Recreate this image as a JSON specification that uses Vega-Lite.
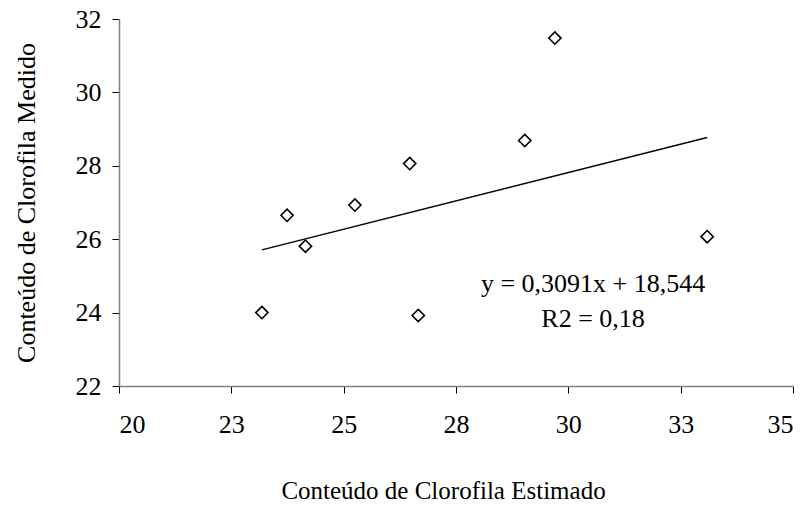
{
  "$schema": "https://vega.github.io/schema/vega-lite/v6.json",
  "width": 674,
  "height": 367,
  "autosize": "none",
  "padding": {"left": 119, "top": 19, "right": 17, "bottom": 121},
  "background": "white",
  "config": {
    "view": {"stroke": null},
    "font": "Liberation Serif",
    "axis": {
      "grid": false,
      "labelFont": "Liberation Serif",
      "labelFontSize": 26,
      "labelColor": "black",
      "titleFont": "Liberation Serif",
      "titleFontSize": 25,
      "titleFontWeight": "normal",
      "titleColor": "black",
      "domainColor": "#808080",
      "domainWidth": 1.5,
      "tickColor": "black",
      "tickSize": 7
    }
  },
  "datasets": {
    "pontos": [
      {"estimado": 23.18, "medido": 24.00},
      {"estimado": 23.74, "medido": 26.65},
      {"estimado": 24.15, "medido": 25.81},
      {"estimado": 25.25, "medido": 26.93},
      {"estimado": 26.47, "medido": 28.06},
      {"estimado": 26.66, "medido": 23.92},
      {"estimado": 29.03, "medido": 28.69},
      {"estimado": 29.70, "medido": 31.48},
      {"estimado": 33.09, "medido": 26.07}
    ],
    "tendencia": [
      {"estimado": 23.18, "medido": 25.709},
      {"estimado": 33.09, "medido": 28.772}
    ],
    "equacao": [
      {"estimado": 30.55, "medido": 24.55, "texto": "y = 0,3091x + 18,544"},
      {"estimado": 30.55, "medido": 23.6, "texto": "R2 = 0,18"}
    ]
  },
  "encoding": {
    "x": {
      "field": "estimado",
      "type": "quantitative",
      "scale": {"domain": [20, 35], "nice": false, "zero": false},
      "axis": {
        "title": "Conteúdo de Clorofila Estimado",
        "values": [20, 22.5, 25, 27.5, 30, 32.5, 35],
        "format": ".0f",
        "labelPadding": 18,
        "titlePadding": 41,
        "titleX": 324
      }
    },
    "y": {
      "field": "medido",
      "type": "quantitative",
      "scale": {"domain": [22, 32], "nice": false, "zero": false},
      "axis": {
        "title": "Conteúdo de Clorofila Medido",
        "values": [22, 24, 26, 28, 30, 32],
        "labelPadding": 11,
        "titlePadding": 36,
        "titleFontSize": 26,
        "titleLimit": 400
      }
    }
  },
  "layer": [
    {
      "data": {"name": "tendencia"},
      "mark": {"type": "line", "color": "black", "strokeWidth": 1.5}
    },
    {
      "data": {"name": "pontos"},
      "mark": {"type": "point", "shape": "diamond", "size": 150, "filled": false, "color": "black", "strokeWidth": 1.6, "opacity": 1}
    },
    {
      "data": {"name": "equacao"},
      "mark": {"type": "text", "font": "Liberation Serif", "fontSize": 26, "align": "center", "baseline": "alphabetic", "color": "black"},
      "encoding": {"text": {"field": "texto"}}
    }
  ]
}
